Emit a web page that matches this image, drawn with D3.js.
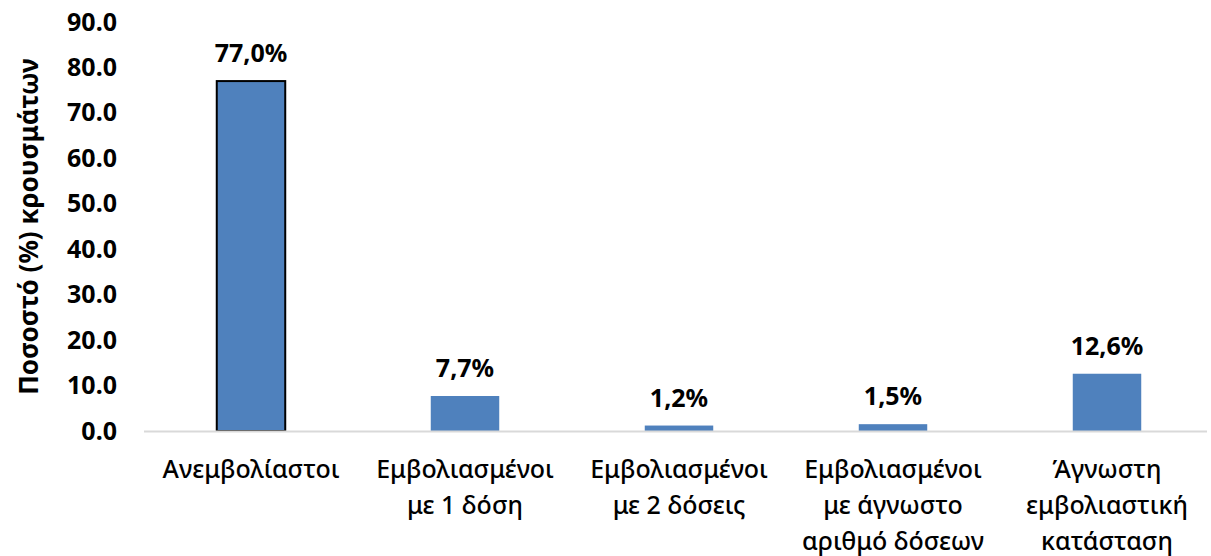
<!DOCTYPE html>
<html>
<head>
<meta charset="utf-8">
<script src="https://cdn.jsdelivr.net/npm/d3@7"></script>
<style>
  body { margin: 0; background: #fff; }
  text { font-family: "Noto Sans", "DejaVu Sans", sans-serif; fill: #000; }
</style>
</head>
<body>
<div id="chart"></div>
<script>
// Chart data
const categories = [
  ["Ανεμβολίαστοι"],
  ["Εμβολιασμένοι", "με 1 δόση"],
  ["Εμβολιασμένοι", "με 2 δόσεις"],
  ["Εμβολιασμένοι", "με άγνωστο", "αριθμό δόσεων"],
  ["Άγνωστη", "εμβολιαστική", "κατάσταση"]
];
const values = [77.0, 7.7, 1.2, 1.5, 12.6];
const yTicks = [0, 10, 20, 30, 40, 50, 60, 70, 80, 90];
const yTitle = "Ποσοστό (%) κρουσμάτων";

const width = 1211,
      height = 556;
const margin = { top: 22, right: -3, bottom: 125, left: 144 };

const svg = d3.select("#chart").append("svg")
    .attr("width", width)
    .attr("height", height);

const x = d3.scaleBand()
    .domain(d3.range(categories.length))
    .range([margin.left, width - margin.right])
    .paddingInner(0.68)
    .paddingOuter(0.34);

const y = d3.scaleLinear()
    .domain([0, 90])
    .range([height - margin.bottom, margin.top]);

// Y tick labels (no axis line)
const yAxis = svg.append("g")
    .attr("transform", `translate(${margin.left}, 0)`)
    .call(d3.axisLeft(y).tickValues(yTicks).tickSize(0).tickPadding(27).tickFormat(d3.format(".1f")));
yAxis.select(".domain").remove();
yAxis.selectAll("text")
    .style("font-family", "'Noto Sans', sans-serif")
    .style("font-size", "25px")
    .style("font-weight", "bold")
    .attr("fill", "#000");

// Bars
svg.selectAll(".bar")
  .data(values)
  .enter().append("rect")
    .attr("class", "bar")
    .attr("x", (d, i) => x(i))
    .attr("y", d => y(d))
    .attr("width", x.bandwidth())
    .attr("height", d => y(0) - y(d))
    .attr("fill", "#4f81bd")
    .attr("stroke", (d, i) => i === 0 ? "#000" : "none")
    .attr("stroke-width", 2);

// Baseline
svg.append("line")
    .attr("x1", margin.left)
    .attr("x2", width - 4)
    .attr("y1", y(0) + 0.5)
    .attr("y2", y(0) + 0.5)
    .attr("stroke", "#d9d9d9")
    .attr("stroke-width", 2);

// Value labels
svg.selectAll(".value")
  .data(values)
  .enter().append("text")
    .attr("class", "value")
    .attr("x", (d, i) => x(i) + x.bandwidth() / 2)
    .attr("y", d => y(d) - 19)
    .attr("text-anchor", "middle")
    .style("font-size", "25px")
    .style("font-weight", "bold")
    .text(d => d3.format(".1f")(d).replace(".", ",") + "%");

// Category labels
const cat = svg.selectAll(".cat")
  .data(categories)
  .enter().append("text")
    .attr("class", "cat")
    .attr("x", (d, i) => x(i) + x.bandwidth() / 2)
    .attr("y", 478)
    .attr("text-anchor", "middle")
    .style("font-size", "25px")
    .style("font-weight", 500);
cat.selectAll("tspan")
  .data(d => d)
  .enter().append("tspan")
    .attr("x", function() { return d3.select(this.parentNode).attr("x"); })
    .attr("dy", (d, i) => i === 0 ? 0 : 36)
    .text(d => d);

// Y axis title
svg.append("text")
    .attr("transform", `translate(38, ${(y(0) + y(90)) / 2}) rotate(-90)`)
    .attr("text-anchor", "middle")
    .style("font-size", "26px")
    .style("font-weight", "bold")
    .text(yTitle);
</script>
</body>
</html>
